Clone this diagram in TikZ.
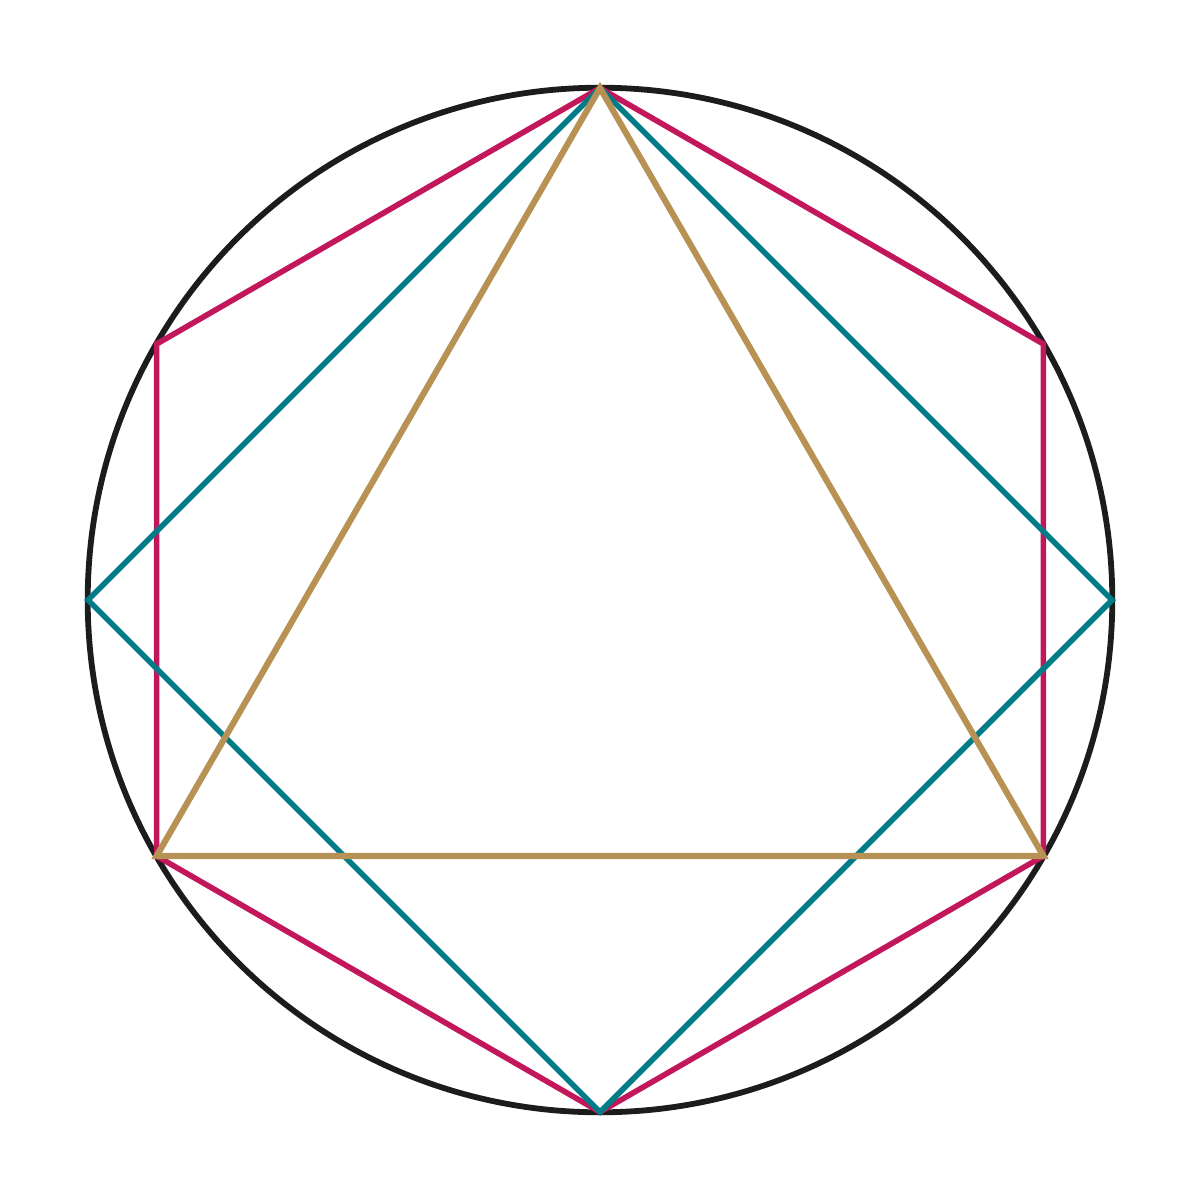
\documentclass[tikz,border=0pt]{standalone}
\definecolor{circblack}{HTML}{1C1C1C}
\definecolor{hexred}{HTML}{C2185B}
\definecolor{sqteal}{HTML}{007C89}
\definecolor{tritan}{HTML}{B89155}
\tikzset{
  circ/.style={draw=circblack, line width=1.65pt},
  poly/.style={line width=1.6pt, line join=miter},
}
\begin{document}
\begin{tikzpicture}[x=0.01cm,y=-0.01cm]
\useasboundingbox (0,0) rectangle (1200,1200);
\coordinate (O) at (600,600);
\draw[circ] (O) circle[radius=5.12cm];
\coordinate (T) at (600,88);
\coordinate (H1) at (1043.4,344);
\coordinate (H2) at (1043.4,856);
\coordinate (B) at (600,1112);
\coordinate (H4) at (156.6,856);
\coordinate (H5) at (156.6,344);
\coordinate (R) at (1112,600);
\coordinate (L) at (88,600);
\draw[poly, hexred] (T) -- (H1) -- (H2) -- (B) -- (H4) -- (H5) -- cycle;
\draw[poly, sqteal] (T) -- (R) -- (B) -- (L) -- cycle;
\draw[poly, tritan, line width=1.75pt] (T) -- (H2) -- (H4) -- cycle;
\end{tikzpicture}
\end{document}
